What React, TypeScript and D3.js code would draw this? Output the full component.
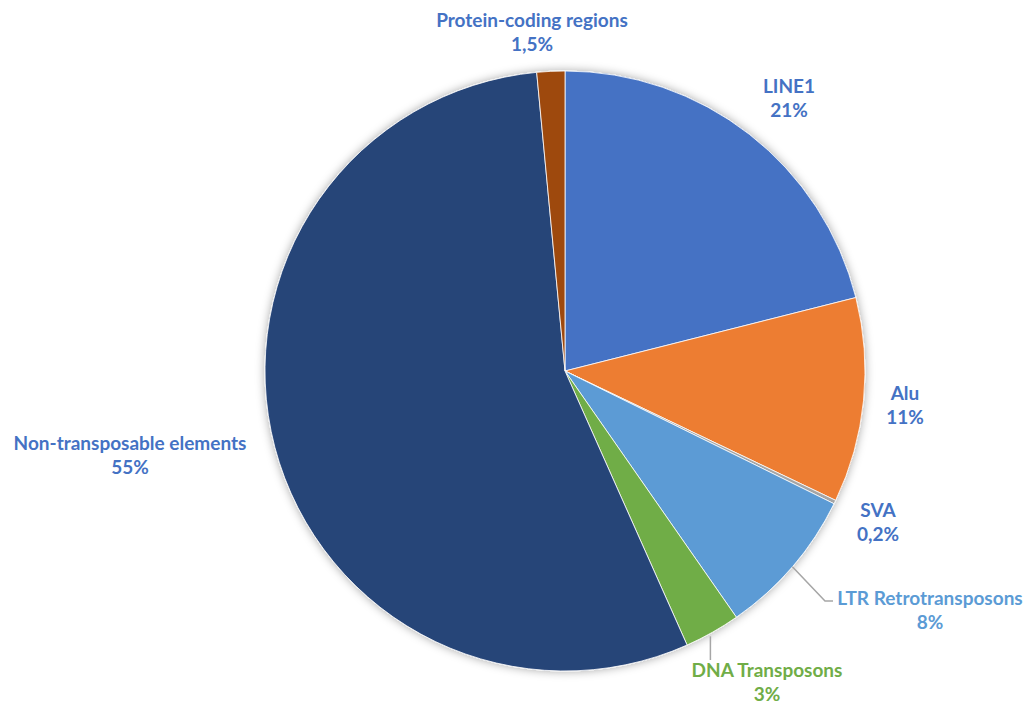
import React from "react";
import * as d3 from "d3";

const categories = [
  "LINE1",
  "Alu",
  "SVA",
  "LTR Retrotransposons",
  "DNA Transposons",
  "Non-transposable elements",
  "Protein-coding regions",
];
const values = [21, 11, 0.2, 8, 3, 55, 1.5];
const valueLabels = ["21%", "11%", "0,2%", "8%", "3%", "55%", "1,5%"];
const colors = ["#4472C4", "#ED7D31", "#A5A5A5", "#5B9BD5", "#70AD47", "#264478", "#9E480E"];
const labelColors = ["#4472C4", "#4472C4", "#4472C4", "#5B9BD5", "#70AD47", "#4472C4", "#4472C4"];

// layout: label center positions relative to pie center
const labelPos: Record<string, [number, number]> = {
  "LINE1": [224, -273],
  "Alu": [340, 34],
  "SVA": [313, 151],
  "LTR Retrotransposons": [365, 239],
  "DNA Transposons": [202, 311],
  "Non-transposable elements": [-435, 84],
  "Protein-coding regions": [-33, -339],
};

export default function App() {
  const W = 1035, H = 706;
  const cx = 565, cy = 371, r = 300;
  const pie = d3.pie<number>().sort(null).value((d) => d)(values);
  const arc = d3.arc<d3.PieArcDatum<number>>().innerRadius(0).outerRadius(r);
  const font = "Lato, 'Open Sans', sans-serif";

  return (
    <svg width={W} height={H} style={{ position: "absolute", left: 0, top: 0 }}>
      <defs>
        <filter id="sh" x="-20%" y="-20%" width="140%" height="140%">
          <feDropShadow dx="0" dy="0" stdDeviation="5" floodColor="#000" floodOpacity="0.35" />
        </filter>
      </defs>
      <rect width={W} height={H} fill="#fff" />
      <g transform={`translate(${cx},${cy})`}>
        <g filter="url(#sh)">
          {pie.map((p, i) => (
            <path key={i} d={arc(p) || ""} fill={colors[i]} stroke="#fff" strokeWidth={0.8} />
          ))}
        </g>
        {pie.map((p, i) => {
          const name = categories[i];
          const [lx, ly] = labelPos[name];
          const mid = (p.startAngle + p.endAngle) / 2;
          const ex = r * Math.sin(mid), ey = -r * Math.cos(mid);
          let leader: string | null = null;
          if (name === "LTR Retrotransposons") {
            leader = `M${ex},${ey}L${lx - 105},${ly - 9}L${lx - 97},${ly - 9}`;
          } else if (name === "DNA Transposons") {
            leader = `M${ex - 2},${ey + 4}L${ex - 2},${ly - 22}`;
          }
          return (
            <g key={name}>
              {leader && <path d={leader} fill="none" stroke="#A6A6A6" strokeWidth={1.5} />}
              <text
                x={lx}
                y={ly - 5}
                textAnchor="middle"
                fontFamily={font}
                fontWeight="bold"
                fontSize={19}
                fill={labelColors[i]}
              >
                <tspan x={lx} dy={0}>{name}</tspan>
                <tspan x={lx} dy={24}>{valueLabels[i]}</tspan>
              </text>
            </g>
          );
        })}
      </g>
    </svg>
  );
}
